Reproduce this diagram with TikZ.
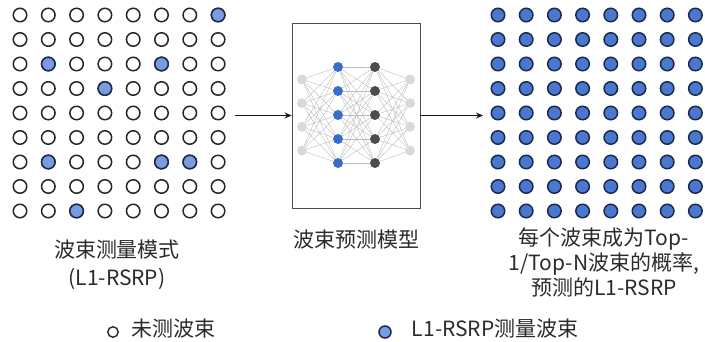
\documentclass[tikz,border=0pt]{standalone}
\usepackage{fontspec}
\newfontfamily\cjk{Noto Sans CJK SC}
\usetikzlibrary{arrows.meta}
\usetikzlibrary{positioning}

\definecolor{beamblue}{HTML}{4A78D0}
\definecolor{measblue}{HTML}{7B9BE0}
\definecolor{navy}{HTML}{1C2A4A}
\definecolor{nnblue}{HTML}{3A6CCC}
\definecolor{nndark}{HTML}{4D4D4D}
\definecolor{nnlight}{HTML}{D9D9D9}
\definecolor{nnedge}{HTML}{BDBDBD}
\definecolor{txt}{HTML}{2B2B2B}

\tikzset{
  beam/.style={circle, draw=black!85, line width=1.5pt, minimum size=13.5pt, inner sep=0pt, fill=white},
  measured/.style={beam, draw=navy, fill=measblue},
  predicted/.style={beam, draw=navy, fill=beamblue},
  neuron/.style={circle, inner sep=0pt, minimum size=10pt},
  synapse/.style={draw=nnedge, line width=0.4pt},
  caption/.style={font=\cjk\fontsize{21}{28}\selectfont, text=txt, align=center, inner sep=0pt},
  flow/.style={-{Stealth[length=7pt,width=6pt]}, line width=1.2pt, black!90},
}

\begin{document}
\begin{tikzpicture}[x=1pt, y=-1pt]
        \useasboundingbox (0,0) rectangle (705,342);

        % measurement pattern
        \foreach \r in {1,...,9}
          \foreach \c in {1,...,8}
            \node[beam] (in-\c-\r) at ({20+28.3*(\c-1)}, {15+24.5*(\r-1)}) {};
        \foreach \c/\r in {8/1, 2/3, 6/3, 4/4, 2/7, 6/7, 7/7, 3/9}
            \node[measured] at (in-\c-\r) {};

        % predicted beams
        \foreach \r in {1,...,9}
          \foreach \c in {1,...,8}
            \node[predicted] (out-\c-\r) at ({498+28.2*(\c-1)}, {15+24.5*(\r-1)}) {};

        % prediction model
        \node[draw=black!70, line width=0.8pt, minimum width=128pt, minimum height=185pt, inner sep=0pt] (model) at (356,115.5) {};
        \foreach \i in {1,...,4} {
            \node[neuron, fill=nnlight] (l1-\i) at (302, {115+23.7*(\i-2.5)}) {};
            \node[neuron, fill=nnlight] (l4-\i) at (410, {115+23.7*(\i-2.5)}) {};
        }
        \foreach \j in {1,...,5} {
            \node[neuron, fill=nnblue] (l2-\j) at (338, {115+24*(\j-3)}) {};
            \node[neuron, fill=nndark] (l3-\j) at (375, {115+24*(\j-3)}) {};
        }
        \foreach \i in {1,...,4}
          \foreach \j in {1,...,5} {
            \draw[synapse] (l1-\i) -- (l2-\j);
            \draw[synapse] (l3-\j) -- (l4-\i);
          }
        \foreach \i in {1,...,5}
          \foreach \j in {1,...,5}
            \draw[synapse] (l2-\i) -- (l3-\j);

        % arrows
        \coordinate (arrow-in) at (235,115.5);
        \coordinate (arrow-out) at (483,115.5);
        \draw[flow] (arrow-in) -- (model.west);
        \draw[flow] (model.east) -- (arrow-out);

        % captions
        \node[caption] (cap-in) at (117,265) {波束测量模式\\(L1-RSRP)};
        \node[caption] (cap-model) at (356,240) {波束预测模型};
        \node[caption, font=\cjk\fontsize{21}{25}\selectfont] (cap-out) at (604,262) {每个波束成为Top-\\1/Top-N波束的概率,\\预测的L1-RSRP};

        % legend
        \node[beam, minimum size=10.5pt, line width=1.4pt] (key-open) at (113,332) {};
        \node[caption, right=12pt of key-open, yshift=3pt] (key-open-text) {未测波束};
        \node[measured, minimum size=12pt] (key-meas) at (385,332) {};
        \node[caption, right=20pt of key-meas, yshift=3pt] (key-meas-text) {L1-RSRP测量波束};
\end{tikzpicture}
\end{document}
